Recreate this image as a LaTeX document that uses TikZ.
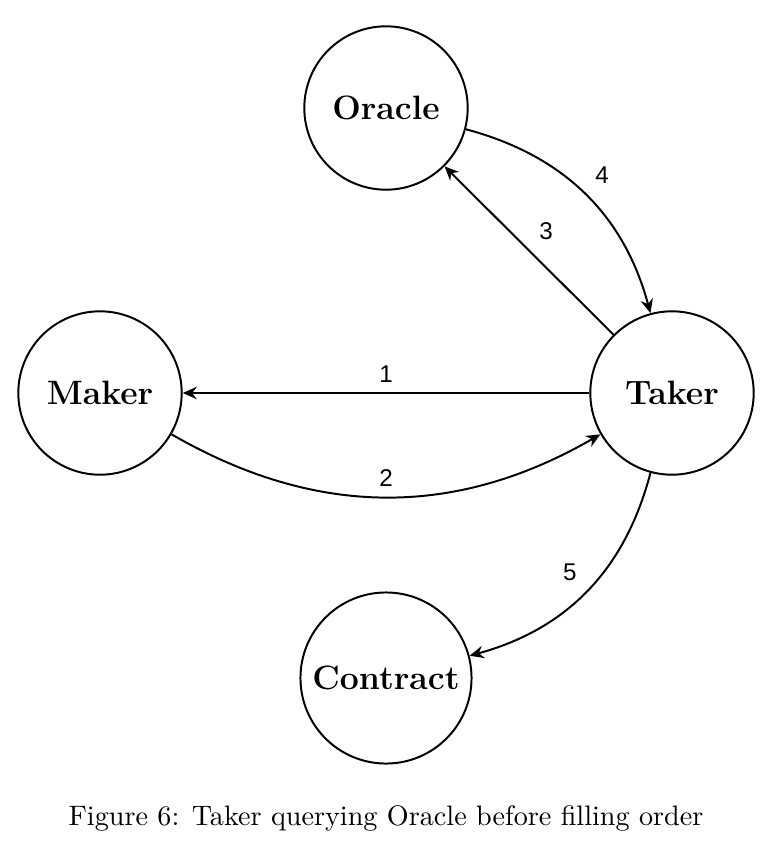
\documentclass[tikz,border=0pt]{standalone}
\usepackage{fontspec}
\usepackage{tikz}
\usetikzlibrary{arrows.meta}
\newfontfamily\numfont{Liberation Sans}

\begin{document}
\begin{tikzpicture}[x=0.355pt,y=0.355pt,yscale=-1,xscale=1,
  party/.style={circle, draw, line width=0.7pt, minimum size=58pt, inner sep=3.3pt, font=\large\bfseries},
  flow/.style={-{Stealth[length=5pt,width=4.4pt]}, line width=0.7pt},
  numlabel/.style={font=\numfont\fontsize{8.6}{9}\selectfont}]
%set diagram to the size of the figure
\path [use as bounding box] (0,0) rectangle (772,858);

% Circle Nodes
\node [party] (oracle) at (386,108) {Oracle};
\node [party] (maker) at (100,393) {Maker};
\node [party] (taker) at (672,393) {Taker};
\node [party] (contract) at (386,678) {Contract};

% Arrows
\draw [flow] (taker) -- node [numlabel, above] {1} (maker);
\draw [flow] (maker) to [bend left=30] node [numlabel, above] {2} (taker);
\draw [flow] (taker) -- node [numlabel, above right] {3} (oracle);
\draw [flow] (oracle) to [bend right=30] node [numlabel, above right] {4} (taker);
\draw [flow] (taker) to [bend right=30] node [numlabel, above left] {5} (contract);

% Caption
\node [anchor=base] (caption) at (386,825) {Figure 6: Taker querying Oracle before filling order};
\end{tikzpicture}
\end{document}
